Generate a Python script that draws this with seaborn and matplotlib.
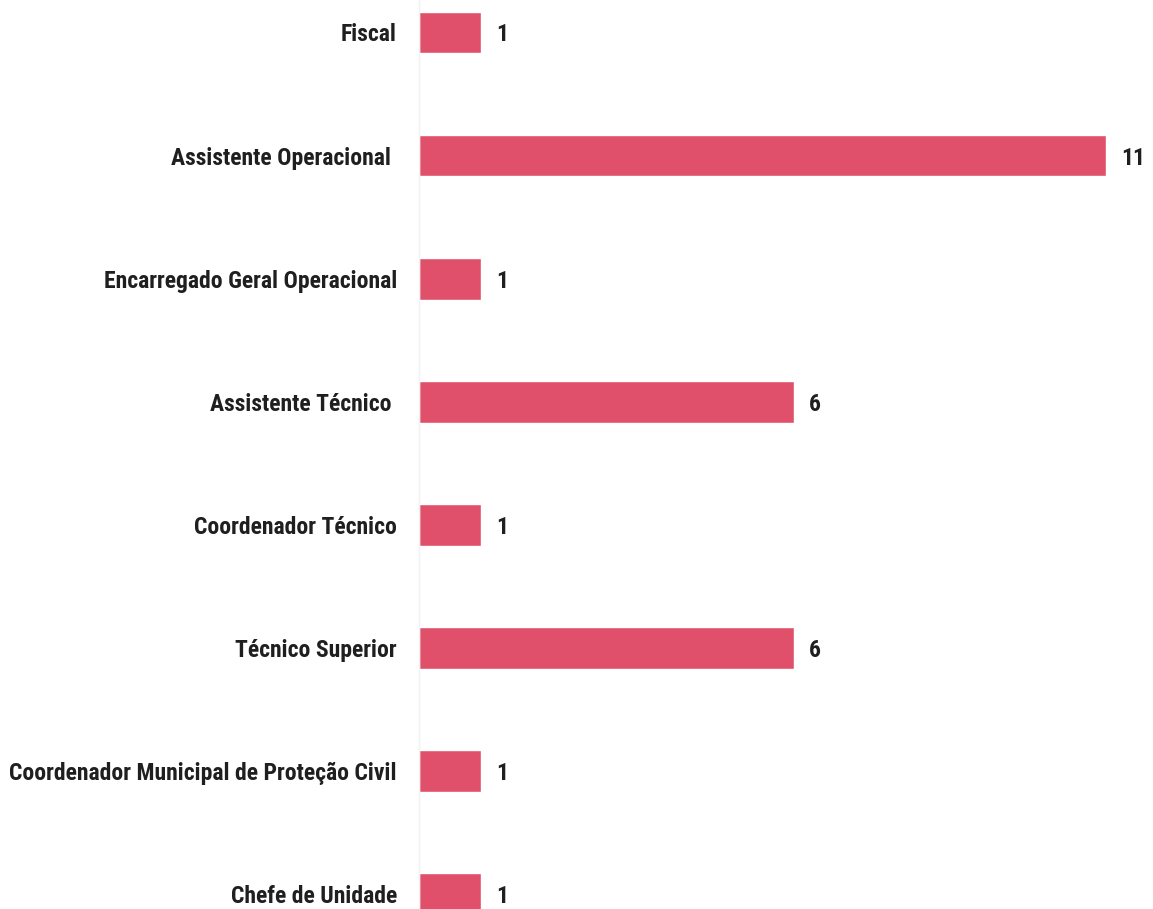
import matplotlib
matplotlib.use("Agg")
import matplotlib.pyplot as plt
import seaborn as sns
import pandas as pd

categories = ["Fiscal", "Assistente Operacional ", "Encarregado Geral Operacional",
              "Assistente Técnico ", "Coordenador Técnico", "Técnico Superior",
              "Coordenador Municipal de Proteção Civil", "Chefe de Unidade"]
values = [1, 11, 1, 6, 1, 6, 1, 1]

sns.set_theme(style="white")
plt.rcParams['font.family'] = ['Roboto Condensed', 'DejaVu Sans']

W, H = 1153, 909
fig = plt.figure(figsize=(W/100, H/100), dpi=100)
left_px = 419
ax = fig.add_axes([left_px/W, 0, 1 - left_px/W, 1])

df = pd.DataFrame({"cat": categories, "val": values})
sns.barplot(data=df, y="cat", x="val", orient="h", color="#E0506A",
            saturation=1, width=0.34, ax=ax)

unit = (1106 - 419) / 11.0
ax.set_xlim(0, (W - left_px) / unit)
pitch = 123.1
ax.set_ylim(7 + (909 - 894) / pitch, -32.5 / pitch)

fs = 17
txts = []
for i, v in enumerate(values):
    txts.append(ax.text(v + 15/unit, i, str(v), va="center_baseline", ha="left", fontsize=fs,
                        fontweight="bold", color="#1f1f1f"))

ax.set_xlabel("")
ax.set_ylabel("")
ax.set_xticks([])
ax.tick_params(axis="y", length=0, pad=16)
labels = ax.get_yticklabels()
for lbl in labels:
    lbl.set_fontsize(fs)
    lbl.set_fontweight("bold")
    lbl.set_color("#1f1f1f")
for s in ["top", "right", "bottom"]:
    ax.spines[s].set_visible(False)
ax.spines["left"].set_color("#f2f2f2")
ax.spines["left"].set_linewidth(1)

# fit longest label to reference width (~387 px)
fig.canvas.draw()
r = fig.canvas.get_renderer()
longest = max(l.get_window_extent(r).width for l in labels)
new_fs = fs * 387.0 / longest
for lbl in labels:
    lbl.set_fontsize(new_fs)
for t in txts:
    t.set_fontsize(new_fs)

fig.savefig("out.png", dpi=100, facecolor="white")
